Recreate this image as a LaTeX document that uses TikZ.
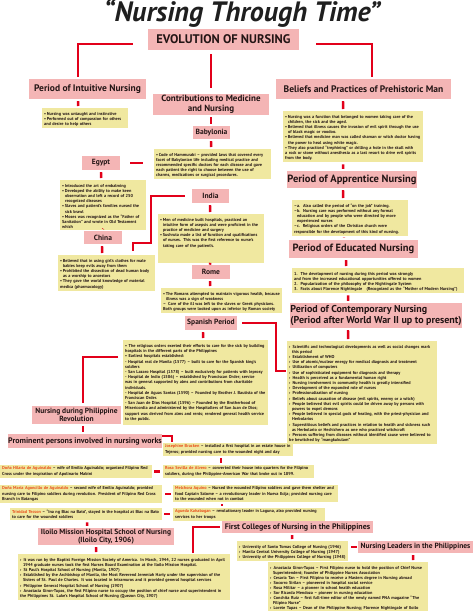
\documentclass[tikz,border=0pt]{standalone}
\usepackage{fontspec}
\setmainfont{PT Sans}
\usetikzlibrary{calc}
\definecolor{pinkc}{HTML}{F4B5B5}
\definecolor{yelc}{HTML}{F0E8A0}
\definecolor{redc}{HTML}{E2001A}
\definecolor{namec}{HTML}{E8501B}
\definecolor{inkc}{HTML}{231515}
\newcommand\bodyfont{\fontsize{4.3pt}{5.2pt}\selectfont\bfseries\hyphenpenalty=10000\exhyphenpenalty=10000}
\newcommand\bl[1][•]{\par\hangindent=2.8pt\hangafter=1\noindent#1\,}
\newcommand\nm[1]{\textcolor{namec}{#1}}
\tikzset{
  head/.style n args={3}{fill=pinkc, text=inkc, inner sep=0pt, align=center,
    minimum width=#1pt, minimum height=#2pt,
    font=\bfseries\fontsize{#3pt}{\fpeval{#3*1.08}pt}\selectfont},
  note/.style 2 args={fill=yelc, text=inkc, anchor=north west, align=left,
    inner xsep=2pt, inner ysep=1.6pt, text width=#1pt-4pt, minimum height=#2pt,
    font=\bodyfont},
  link/.style={draw=redc, line width=2.4pt},
  tick/.style={link, shorten <=2pt, shorten >=2pt},
}
\begin{document}
\begin{tikzpicture}[x=1pt,y=-1pt]
\useasboundingbox[fill=white] (0,0) rectangle (474,611);

\node[font=\bfseries\itshape\fontsize{28pt}{30pt}\selectfont, text=black!88, inner sep=0pt] (title) at (242,13) {“Nursing Through Time”};

% headings
\node[head={151}{21}{12.5}] (evo) at (223.5,39.5) {EVOLUTION OF NURSING};
\node[head={117}{20}{9.5}] (intu) at (87.5,89) {Period of Intuitive Nursing};
\node[head={116}{21}{9}] (contr) at (211,104.5) {Contributions to Medicine\\and Nursing};
\node[head={175}{20}{9.5}] (belief) at (363.5,89) {Beliefs and Practices of Prehistoric Man};
\node[head={37}{13}{7.5}] (baby) at (211.5,132.5) {Babylonia};
\node[head={38}{14}{7.5}] (egypt) at (101,163) {Egypt};
\node[head={38}{13}{7.5}] (china) at (103,237.5) {China};
\node[head={37}{14}{7.5}] (india) at (210.5,196) {India};
\node[head={38}{14}{7.5}] (rome) at (211,272) {Rome};
\node[head={52}{14}{7.5}] (spanish) at (211,323) {Spanish Period};
\node[head={128}{17}{10.5}] (appr) at (352,179.5) {Period of Apprentice Nursing};
\node[head={129}{18}{10.5}] (educ) at (353.5,249) {Period of Educated Nursing};
\node[head={172}{25}{10}, align=left] (contemp) at (376,315.5) {Period of Contemporary Nursing\\(Period after World War II up to present)};
\node[head={89}{18}{7.5}] (revol) at (76.5,415) {Nursing during Philippine\\Revolution};
\node[head={152}{14}{8}] (prom) at (85,441) {Prominent persons involved in nursing works};
\node[head={136}{17}{7.5}] (iloilo) at (106,536.5) {Iloilo Mission Hospital School of Nursing\\(Iloilo City, 1906)};
\node[head={151}{12}{8}] (firstc) at (297.5,527) {First Colleges of Nursing in the Philippines};
\node[head={115}{12}{7.5}] (leaders) at (415.5,547) {Nursing Leaders in the Philippines};

% notes
\node[note={86}{19}] (intuT) at (42,108) {\bl Nursing was untaught and instinctive
\bl Performed out of compassion for others and desire to help others};
\node[note={117}{29}] (babyT) at (154,149) {\bl Code of Hammurabi – provided laws that covered every facet of Babylonian life including medical practice and recommended specific doctors for each disease and gave each patient the right to choose between the use of charms, medications or surgical procedures.};
\node[note={86}{41}] (egyptT) at (60,180) {\bl Introduced the art of embalming
\bl Developed the ability to make keen observation and left a record of 250 recognized diseases
\bl Slaves and patient's families nursed the sick brawl
\bl Moses was recognized as the “Father of Sanitation” and wrote in Old Testament which};
\node[note={97}{30}] (chinaT) at (58,255) {\bl Believed that in using girl's clothes for male babies keep evils away from them
\bl Prohibited the dissection of dead human body as a worship to ancestors
\bl They gave the world knowledge of material medica (pharmacology)};
\node[note={106}{10}] (indiaT) at (158,214) {\bl Men of medicine built hospitals, practiced an intuitive form of asepsis and were proficient in the practice of medicine and surgery
\bl Sushruta made a list of function and qualifications of nurses. This was the first reference to nurse's taking care of the patient's.\par\rule{0pt}{12pt}};
\node[note={121}{21}] (romeT) at (161,288) {\bl The Romans attempted to maintain vigorous health, because illness was a sign of weakness
\bl[–] Care of the ill was left to the slaves or Greek physicians. Both groups were looked upon as inferior by Roman society};
\node[note={145}{85}] (spanT) at (123,340) {• The religious orders exerted their efforts to care for the sick by building hospitals in the different parts of the Philippines\par
• Earliest hospitals established:\par
- Hospital real de Manila (1577) – built to care for the Spanish king's soldiers\par
- San Lazaro Hospital (1578) – built exclusively for patients with leprosy\par
- Hospital de Indio (1586) – established by Franciscan Order; service was in general supported by alms and contributions from charitable individuals.\par
- Hospital de Aguas Santas (1590) – Founded by Brother J. Bautista of the Franciscan Order.\par
- San Juan de Dios Hospital (1596) – Founded by the Brotherhood of Misericordia and administered by the Hospitallers of San Juan de Dios; support was derived from alms and rents; rendered general health service to the public.};
\node[note={140}{49}] (beliefT) at (283,111) {\bl Nursing was a function that belonged to women taking care of the children, the sick and the aged.
\bl Believed that illness causes the invasion of evil spirit through the use of black magic or voodoo.
\bl Believed that medicine man was called shaman or witch doctor having the power to heal using white magic.
\bl They also practiced “trephining” or drilling a hole in the skull with a rock or stone without anesthesia as a last resort to drive evil spirits from the body.};
\node[note={116}{28}] (apprT) at (292,200) {\bl[–a.] Also called the period of “on the job” training.
\bl[–b.] Nursing care was performed without any formal education and by people who were directed by more experienced nurses
\bl[–c.] Religious orders of the Christian church were responsible for the development of this kind of nursing.};
\node[note={172}{23}] (educT) at (292,268) {\bl[1.] The development of nursing during this period was strongly\\ and from the increased educational opportunities offered to women
\bl[2.] Popularization of the philosophy of the Nightingale System
\bl[3.] Facts about Florence Nightingale\quad(Recognized as the “Mother of Modern Nursing”)};
\node[note={150}{96}] (contT) at (287,341) {\bl[›] Scientific and technological developments as well as social changes mark this period
\bl[›] Establishment of WHO
\bl[›] Use of atomic/nuclear energy for medical diagnosis and treatment
\bl[›] Utilization of computers
\bl[›] Use of sophisticated equipment for diagnosis and therapy
\bl[›] Health is perceived as a fundamental human right
\bl[›] Nursing involvement in community health is greatly intensified
\bl[›] Development of the expanded role of nurses
\bl[›] Professionalization of nursing
\bl[›] Beliefs about causation of disease (evil spirits, enemy or a witch)
\bl[›] People believed that evil spirits could be driven away by persons with powers to expel demons
\bl[›] People believed in special gods of healing, with the priest-physician and Herbolarios
\bl[›] Superstitious beliefs and practices in relation to health and sickness such as Herbolario or Hechichero as one who practiced witchcraft
\bl[›] Persons suffering from diseases without identified cause were believed to be bewitched by “mangkukulam”};
\node[note={130}{12}] (joseT) at (163,443) {\nm{Josephine Bracken} – installed a first hospital in an estate house in Tejeros; provided nursing care to the wounded night and day};
\node[note={151}{11}] (rosaT) at (163,465) {\nm{Rosa Sevilla de Alvero} – converted their house into quarters for the Filipino soldiers, during the Philippine-American War that broke out in 1899.};
\node[note={152}{10}] (hilT) at (0,465) {\nm{Doña Hilaria de Aguinaldo} – wife of Emilio Aguinaldo; organized Filipino Red Cross under the inspiration of Apolinario Mabini};
\node[note={162}{13}] (mariaT) at (0,485) {\nm{Doña Maria Agoncillo de Aguinaldo} – second wife of Emilio Aguinaldo; provided nursing care to Filipino soldiers during revolution. President of Filipino Red Cross Branch in Batangas};
\node[note={165}{13}] (melT) at (173,485) {\nm{Melchora Aquino} – Nursed the wounded Filipino soldiers and gave them shelter and food Captain Salome – a revolutionary leader in Nueva Ecija; provided nursing care to the wounded when not in combat};
\node[note={152}{10}] (trinT) at (10,508) {\nm{Trinidad Tecson} – “Ina ng Biac na Bato”, stayed in the hospital at Biac na Bato to care for the wounded soldiers};
\node[note={152}{10}] (agueT) at (173,508) {\nm{Agueda Kahabagan} – revolutionary leader in Laguna, also provided nursing services to her troops};
\node[note={212}{43}] (iloT) at (18,554) {\bl[›] It was run by the Baptist Foreign Mission Society of America. In March, 1944, 22 nurses graduated in April 1944 graduate nurses took the first Nurses Board Examination at the Iloilo Mission Hospital.
\bl[›] St Paul's Hospital School of Nursing (Manila, 1907)
\bl[›] Established by the Archbishop of Manila, the Most Reverend Jeremiah Harty under the supervision of the Sisters of St. Paul de Chartes. It was located in Intramuros and it provided general hospital services
\bl[›] Philippine General Hospital School of Nursing (1907)
\bl[›] Anastacia Giron-Tupas, the first Filipino nurse to occupy the position of chief nurse and superintendent in the Philippines St. Luke's Hospital School of Nursing (Quezon City, 1907)};
\node[note={111}{16}] (firstT) at (237,541) {\bl[›] University of Santo Tomas College of Nursing (1946)
\bl[›] Manila Central University College of Nursing (1947)
\bl[›] University of the Philippines College of Nursing (1948)};
\node[note={160}{50}, font=\bodyfont\fontsize{4.3pt}{4.95pt}\selectfont, inner ysep=1.2pt] (leadT) at (268,562) {\bl[›] Anastacia Giron-Tupas – First Filipino nurse to hold the position of Chief Nurse Superintendent; founder of Philippine Nurses Association
\bl[›] Cesaria Tan – First Filipino to receive a Masters degree in Nursing abroad
\bl[›] Socorro Sirilan – pioneered in hospital social service
\bl[›] Rosa Militar – a pioneer in school health education
\bl[›] Sor Ricarda Mendoza – pioneer in nursing education
\bl[›] Conchita Ruiz – first full-time editor of the newly named PNA magazine “The Filipino Nurse”
\bl[›] Lorete Tupas – Dean of the Philippine Nursing; Florence Nightingale of Iloilo};

% main connectors
\draw[link] ([xshift=-15pt,yshift=-4.5pt]evo.west) -| ([xshift=-9.5pt,yshift=2pt]intu.north);
\draw[link] ([xshift=17pt,yshift=-4.5pt]evo.east) -| ([xshift=8.5pt,yshift=2pt]belief.north);
\draw[link,shorten <=4pt,shorten >=6pt] (contr.north |- evo.south) -- (contr.north);

% ticks
\draw[tick] ([xshift=-9.5pt]intu.south) -- ([xshift=-7pt]intuT.north);
\draw[tick] (contr.south) -- ([xshift=-0.5pt]baby.north);
\draw[tick] ([xshift=-0.5pt]baby.south) -- ([xshift=-1.5pt]babyT.north);
\draw[tick] ([xshift=-20.5pt]belief.south) -- ([xshift=-10pt]beliefT.north);
\draw[tick] ([xshift=-10pt]beliefT.south) -- ([xshift=-9pt]appr.north);
\draw[tick] ([xshift=-9pt]appr.south) -- ([xshift=-7pt]apprT.north);
\draw[tick] ([xshift=-6pt]apprT.south) -- ([xshift=-9.5pt]educ.north);
\draw[tick] ([xshift=-7.5pt]educ.south) -- ([xshift=-32pt]educT.north);
\draw[tick] ([xshift=-30pt]educT.south) -- ([xshift=-28pt]contemp.north);
\draw[tick] ([xshift=-28pt]contemp.south) -- ([xshift=-14pt]contT.north);
\draw[tick] (egypt.south) -- ([xshift=-2pt]egyptT.north);
\draw[tick] ([xshift=-1pt]egyptT.south) -- ([xshift=-1pt]china.north);
\draw[tick] ([xshift=-1pt]china.south) -- ([xshift=-4.5pt]chinaT.north);
\draw[tick] ([xshift=-0.5pt]india.south) -- ([xshift=-1pt]indiaT.north);
\draw[tick] ([xshift=-1pt]indiaT.south) -- ([xshift=-1pt]rome.north);
\draw[tick] ([xshift=-1pt]rome.south) -- ([xshift=-11.5pt]romeT.north);
\draw[tick] ([xshift=-8pt]spanish.south) -- ([xshift=7.5pt]spanT.north);
\draw[tick] ([xshift=6.5pt]revol.south) -- ([xshift=-2pt]prom.north);
\draw[tick] ([xshift=-7pt]joseT.south) -- ([xshift=-17.5pt]rosaT.north);
\draw[tick] ([xshift=-33.5pt]melT.south) -- ([xshift=-27pt]agueT.north);
\draw[tick] ([xshift=1pt]trinT.south) -- ([xshift=-19pt]iloilo.north);
\draw[tick] ([xshift=-10pt]iloilo.south) -- ([xshift=-28pt]iloT.north);
\draw[tick] ([xshift=-5.5pt]firstc.south) -- ([xshift=-0.5pt]firstT.north);
\draw[tick] ([xshift=-2.5pt]leaders.south) -- ([xshift=65pt]leadT.north);

% horizontal dashes
\draw[link,shorten <=10pt,shorten >=11pt] (egypt.east) -- (egypt.east -| babyT.west);
\draw[link,shorten <=2pt,shorten >=3pt] (hilT.east) -- (hilT.east -| rosaT.west);
\draw[link,shorten <=3pt,shorten >=2pt] (mariaT.east) -- (mariaT.east -| melT.west);
\draw[link,shorten <=2pt,shorten >=3pt] (trinT.east) -- (trinT.east -| agueT.west);
\draw[link,shorten <=3pt,shorten >=1pt] (leaders.west -| firstT.east) -- (leaders.west);

% long connectors
\draw[link] ([xshift=-7pt]india.west) -- ++(-34,0) |- ([xshift=26.5pt,yshift=12pt]chinaT.north) -- ([xshift=26.5pt,yshift=4pt]chinaT.north);
\draw[link] ([xshift=5pt]spanish.east) -- ++(34,0) |- ([xshift=-1pt,yshift=-30pt]contT.north west);
\draw[link] ([xshift=-5pt,yshift=-17pt]spanT.north west) -| ([xshift=6.5pt,yshift=3pt]revol.north);
\draw[link] ([yshift=5pt]prom.east) -| ([xshift=9pt,yshift=1pt]joseT.north west);
\draw[link] ([xshift=175pt,yshift=1pt]iloT.north west) |- ([xshift=-2pt]firstc.west);
\end{tikzpicture}
\end{document}
